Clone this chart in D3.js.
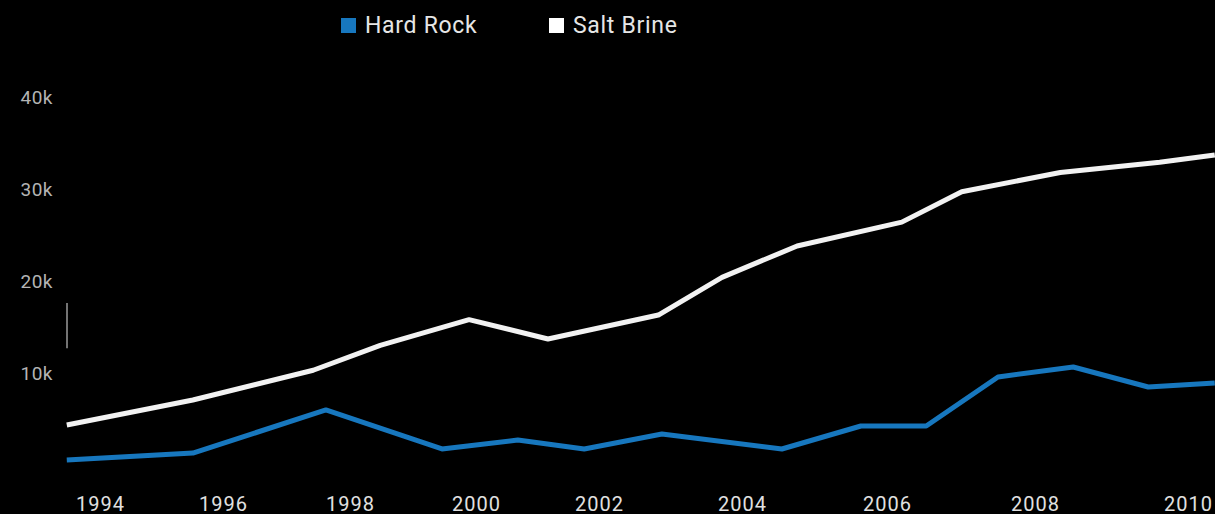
<!DOCTYPE html>
<html>
<head>
<meta charset="utf-8">
<script src="https://cdn.jsdelivr.net/npm/d3@7"></script>
<style>
  html, body { margin: 0; padding: 0; background: #000; }
  svg { display: block; font-family: Roboto, "Noto Sans", sans-serif; }
</style>
</head>
<body>
<svg id="chart"></svg>
<script>
// Series names and colours
const seriesNames = ["Hard Rock", "Salt Brine"];
const seriesColors = ["#1777be", "#f2f2f2"];

// Hard Rock: dates (decimal years) and values
const hardYears = [1993.46, 1995.51, 1997.62, 1999.46, 2000.68, 2001.76, 2002.88,
                   2004.55, 2005.64, 2006.53, 2007.50, 2008.50, 2009.48, 2010.35];
const hardValues = [540, 1300, 5980, 1740, 2720, 1740, 3370,
                    1740, 4240, 4240, 9570, 10650, 8480, 8910];

// Salt Brine: dates (decimal years) and values
const saltYears = [1993.46, 1995.51, 1997.42, 1998.48, 1999.89, 2001.17, 2002.83,
                   2003.72, 2004.76, 2006.20, 2007.01, 2008.33, 2009.63, 2010.35];
const saltValues = [4350, 7070, 10300, 13000, 15800, 13700, 16300,
                    20400, 23800, 26400, 29700, 31800, 32900, 33700];

// Tick labels
const xTicks = [1994, 1996, 1998, 2000, 2002, 2004, 2006, 2008, 2010];
const yTicks = [10000, 20000, 30000, 40000];

const width = 1215, height = 514;

const svg = d3.select("#chart")
    .attr("width", width)
    .attr("height", height);

svg.append("rect")
    .attr("width", width)
    .attr("height", height)
    .attr("fill", "#000");

// x scale: tick years sit at uneven spacing in the source, so map piecewise
const xScale = d3.scaleLinear()
    .domain(xTicks)
    .range([100, 223, 350, 476, 599, 742, 887, 1035, 1188]);

const yScale = d3.scaleLinear()
    .domain([0, 40000])
    .range([465, 97]);

// y axis (labels only)
const yAxisGroup = svg.append("g")
    .attr("transform", "translate(53,0)")
    .call(d3.axisLeft(yScale).tickValues(yTicks).tickFormat(d => d / 1000 + "k").tickSize(0).tickPadding(0));
yAxisGroup.select(".domain").remove();
yAxisGroup.selectAll("text")
    .attr("fill", "#b4b4b4")
    .style("font-size", "19px")
    .style("letter-spacing", "0.5px")
    .style("font-family", "Roboto, sans-serif");

// x axis (labels only)
const xAxisGroup = svg.append("g")
    .attr("transform", "translate(0,497)")
    .call(d3.axisBottom(xScale).tickValues(xTicks).tickFormat(d3.format("d")).tickSize(0).tickPadding(0));
xAxisGroup.select(".domain").remove();
xAxisGroup.selectAll("text")
    .attr("fill", "#e0e0e0")
    .style("font-size", "20px")
    .style("letter-spacing", "1px")
    .style("font-family", "Roboto, sans-serif");

// small cursor-like mark near the y axis
svg.append("line")
    .attr("x1", 67).attr("x2", 67)
    .attr("y1", yScale(17600)).attr("y2", yScale(12700))
    .attr("stroke", "#9a9a9a")
    .attr("stroke-width", 1.5);

// Lines
const line = d3.line()
    .x(d => xScale(d[0]))
    .y(d => yScale(d[1]));

const series = [
    d3.zip(hardYears, hardValues),
    d3.zip(saltYears, saltValues)
];

svg.selectAll("path.series")
    .data(series)
  .enter().append("path")
    .attr("class", "series")
    .attr("d", line)
    .attr("fill", "none")
    .attr("stroke", (d, i) => seriesColors[i])
    .attr("stroke-width", 5)
    .attr("stroke-linejoin", "round");

// Legend
const legend = svg.selectAll("g.legend")
    .data(seriesNames)
  .enter().append("g")
    .attr("class", "legend")
    .attr("transform", (d, i) => `translate(${[341, 549][i]},18)`);

legend.append("rect")
    .attr("width", 15)
    .attr("height", 15)
    .attr("fill", (d, i) => i === 1 ? "#ffffff" : seriesColors[i]);

legend.append("text")
    .attr("x", 24)
    .attr("y", 15)
    .attr("fill", "#e6e6e6")
    .style("font-size", "23px")
    .style("letter-spacing", "0.7px")
    .text(d => d);
</script>
</body>
</html>
